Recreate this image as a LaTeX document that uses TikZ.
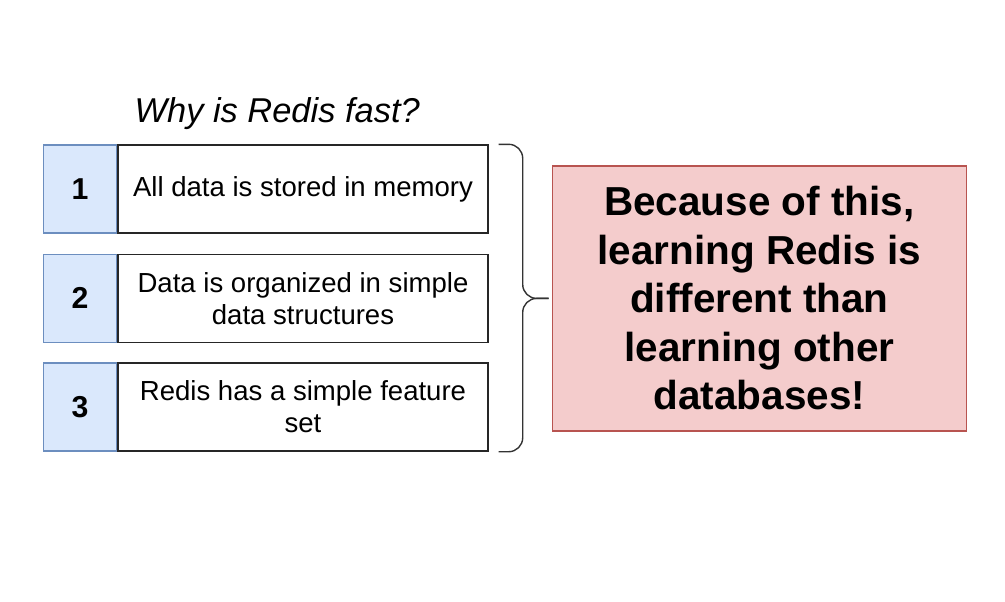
\documentclass[tikz,border=0pt]{standalone}
\usepackage{fontspec}
\setmainfont{Liberation Sans}
\usepackage{xcolor}
\usetikzlibrary{positioning}

\definecolor{numfill}{HTML}{DAE8FC}
\definecolor{numdraw}{HTML}{6C8EBF}
\definecolor{notefill}{HTML}{F4CCCC}
\definecolor{notedraw}{HTML}{B85450}

\begin{document}
\begin{tikzpicture}[node distance=0.5cm, thick]
        \tikzstyle{numbox} = [rectangle, minimum width=1.825cm, minimum height=2.2cm, text centered, draw=numdraw, fill=numfill, line width=1pt, font=\bfseries\fontsize{21.5}{25}\selectfont]
        \tikzstyle{textbox} = [rectangle, minimum width=9.25cm, minimum height=2.2cm, align=center, draw=black!85, fill=white, line width=1pt, font=\fontsize{19.6}{22.8}\selectfont]
        \tikzstyle{notebox} = [rectangle, minimum width=10.35cm, minimum height=6.625cm, align=center, draw=notedraw, fill=notefill, line width=1pt, font=\bfseries\fontsize{28.8}{34.5}\selectfont]
        \tikzstyle{bracket} = [line width=1pt, draw=black!80, rounded corners=0.35cm]

        \useasboundingbox (0,0) rectangle (25.125,-15.025);

        \node (title) at (6.93,-2.85) {\itshape\fontsize{24.5}{28}\selectfont Why is Redis fast?};

        \node (txt1) [textbox] at (7.575,-4.725) {All data is stored in memory};
        \node (txt2) [textbox, below=0.5cm of txt1] {Data is organized in simple\\data structures};
        \node (txt3) [textbox, below=0.48cm of txt2] {Redis has a simple feature\\set};

        \node (num1) [numbox, left=0cm of txt1] {1};
        \node (num2) [numbox, left=0cm of txt2] {2};
        \node (num3) [numbox, left=0cm of txt3] {3};

        \coordinate (bt) at ([xshift=0.25cm]txt1.north east);
        \coordinate (bb) at ([xshift=0.25cm]txt3.south east);
        \coordinate (tip) at ([xshift=1.5cm]txt2.east);

        \draw [bracket] (bt) -- ++(0.6,0) |- (tip);
        \draw [bracket] (bb) -- ++(0.6,0) |- (tip);

        \node (note) [notebox, right=0.075cm of tip] {Because of this,\\learning Redis is\\different than\\learning other\\databases!};
    \end{tikzpicture}
\end{document}
